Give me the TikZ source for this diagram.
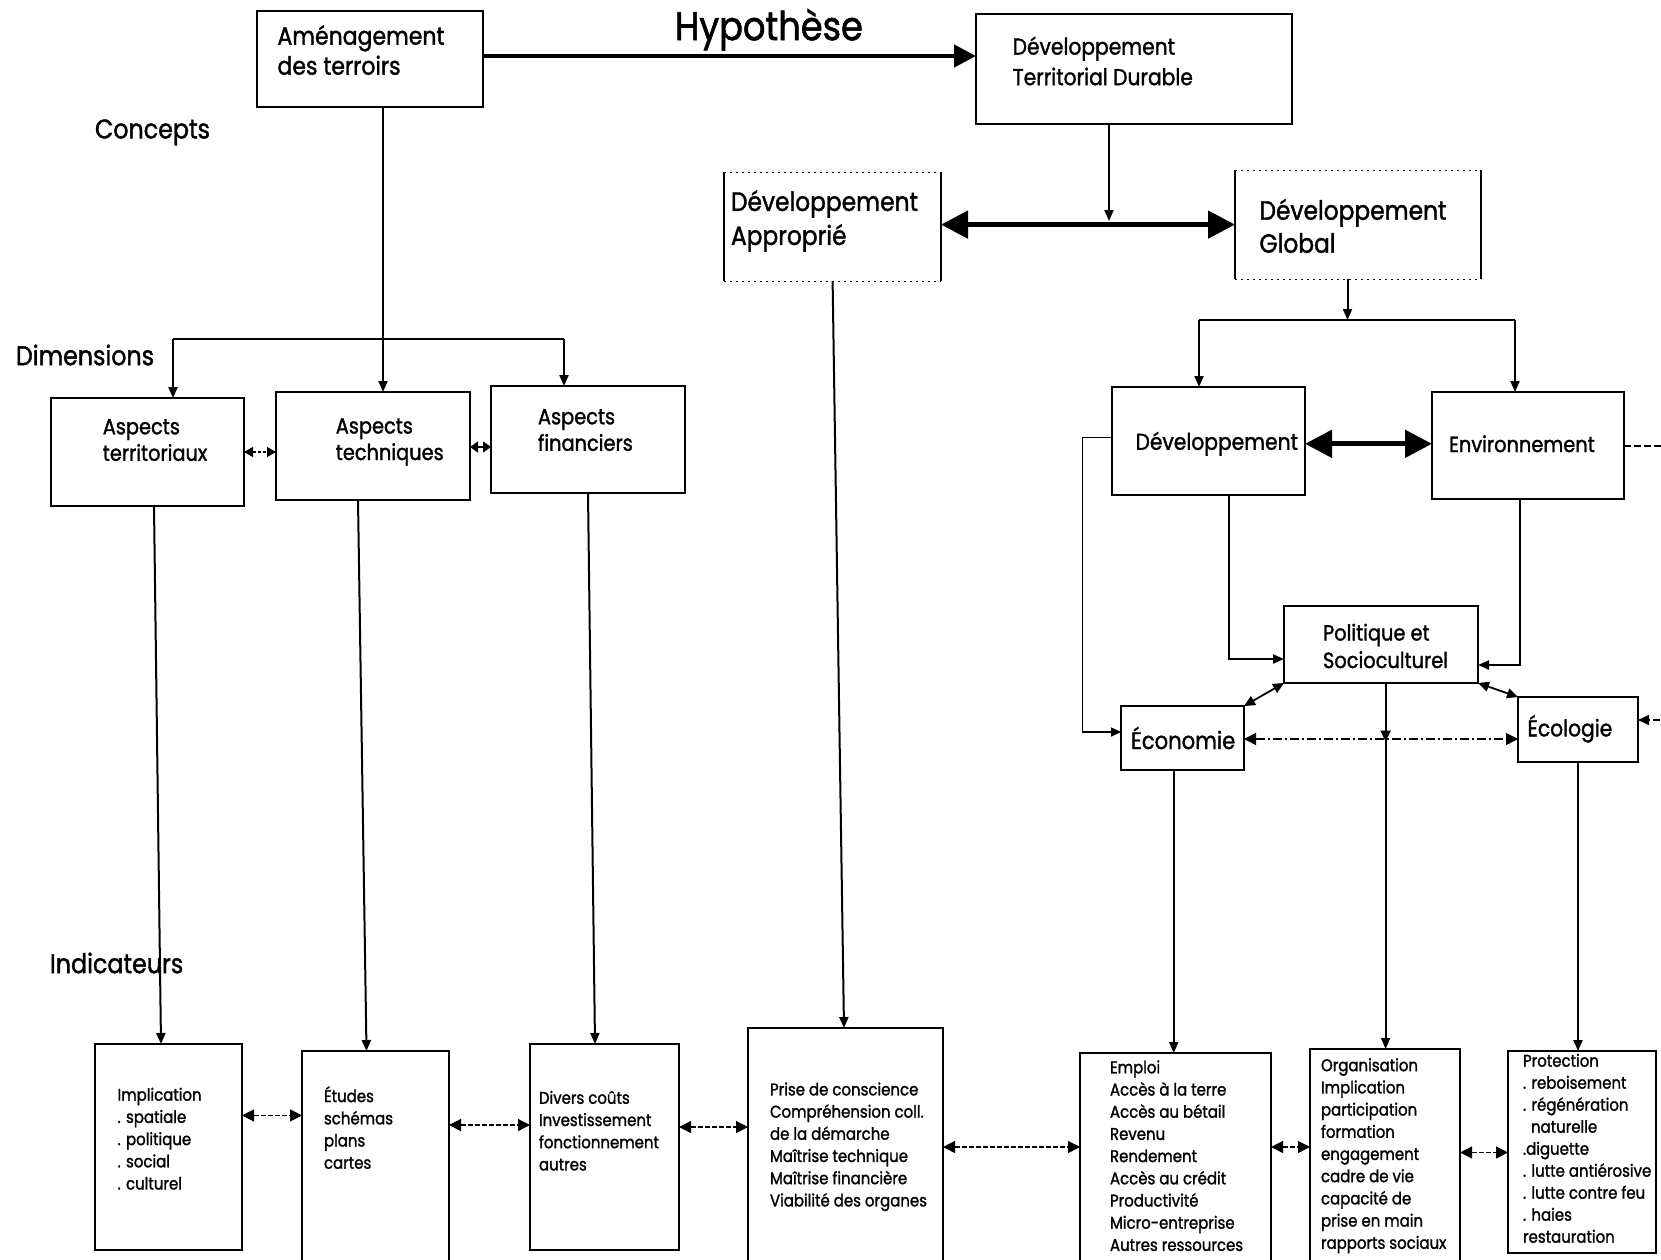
\documentclass[tikz,border=0pt]{standalone}
\usepackage{fontspec}
\setmainfont{Poppins}[FakeStretch=0.88, FakeBold=1.4]
\usetikzlibrary{arrows.meta,decorations.markings}
\newcommand\fsz[2]{\fontsize{#1}{#2}\selectfont}
\newcommand\mkbox[6][]{\node[bx,#1, minimum width={#5-#3}, minimum height={#6-#4}] (#2) at ({(#3+#5)/2},{(#4+#6)/2}) {};}
\tikzset{
  bx/.style={draw, line width=2pt, rectangle, inner sep=0pt, outer sep=0pt},
  tx/.style={inner sep=0pt, outer sep=0pt, align=left, anchor=west},
  ln/.style={line width=2pt},
  con/.style={line width=2pt, -{Triangle[length=11pt,width=9pt]}},
  dbl/.style={line width=1.8pt, {Triangle[length=11pt,width=10pt]}-{Triangle[length=11pt,width=10pt]}},
  sdbl/.style={line width=1.3pt, dash pattern=on 3pt off 2pt, {Triangle[length=9pt,width=10pt]}-{Triangle[length=9pt,width=10pt]}},
  ddbl/.style={line width=1.3pt, dash pattern=on 5pt off 2pt, {Triangle[length=12pt,width=12pt]}-{Triangle[length=12pt,width=12pt]}},
  dddbl/.style={line width=1.3pt, dash pattern=on 9pt off 3pt on 2pt off 3pt, {Triangle[length=12pt,width=12pt]}-{Triangle[length=12pt,width=12pt]}},
  thk/.style={line width=5pt, {Triangle[length=27pt,width=27pt]}-{Triangle[length=27pt,width=27pt]}},
  hyparr/.style={line width=4.5pt, -{Triangle[length=22pt,width=22pt]}},
  midarr/.style={postaction={decorate, decoration={markings, mark=at position 0.16 with {\arrow{Triangle[length=11pt,width=10pt]}}}}},
}
\begin{document}
\begin{tikzpicture}[x=1pt,y=-1pt]
\useasboundingbox[fill=white] (0,0) rectangle (1661,1259);

% ---------- boxes ----------
\mkbox{amen}{257}{11}{483}{107}
\mkbox{dtd}{976}{14}{1292}{124}
\mkbox[draw=none]{DA}{724}{172}{941}{281}
\mkbox[draw=none]{DG}{1235}{170}{1481}{279}
\mkbox{aterr}{51}{398}{244}{506}
\mkbox{atech}{276}{392}{470}{500}
\mkbox{afin}{491}{386}{685}{493}
\mkbox{dev}{1112}{387}{1305}{495}
\mkbox{env}{1432}{392}{1624}{499}
\mkbox{pol}{1284}{606}{1478}{683}
\mkbox{eco}{1121}{706}{1244}{770}
\mkbox{ecol}{1518}{697}{1638}{762}
\mkbox{ind1}{95}{1044}{242}{1250}
\mkbox{ind2}{302}{1051}{449}{1262}
\mkbox{ind3}{530}{1044}{679}{1250}
\mkbox{ind4}{748}{1028}{943}{1272}
\mkbox{ind7}{1080}{1053}{1271}{1272}
\mkbox{ind8}{1310}{1049}{1460}{1272}
\mkbox{ind9}{1508}{1051}{1656}{1253}

% open-looking boxes (solid sides, dotted top and bottom)
\draw[ln] (DA.north west) -- (DA.south west) (DA.north east) -- (DA.south east);
\draw[line width=1pt, dash pattern=on 2pt off 4pt] (DA.north west) -- (DA.north east) (DA.south west) -- (DA.south east);
\draw[ln] (DG.north west) -- (DG.south west) (DG.north east) -- (DG.south east);
\draw[line width=1pt, dash pattern=on 2pt off 4pt] (DG.north west) -- (DG.north east) (DG.south west) -- (DG.south east);

% ---------- texts ----------
\node[tx, font=\fsz{40}{44}] (hyp) at (675,29.7) {Hypothèse};
\node[tx, font=\fsz{27}{30}] (lconc) at (95,132.4) {Concepts};
\node[tx, font=\fsz{27}{30}] (ldim) at (16,355) {Dimensions};
\node[tx, font=\fsz{27}{30}] (lind) at (50,963) {Indicateurs};

\node[tx, font=\fsz{25}{30}] (amen-t) at (277.5,50) {Aménagement\\des terroirs};
\node[tx, font=\fsz{23}{30.5}] (dtd-t) at (1012.7,61) {Développement\\Territorial Durable};
\node[tx, font=\fsz{26.5}{34}] (DA-t) at (731,221) {Développement\\Approprié};
\node[tx, font=\fsz{26.5}{33}] (DG-t) at (1259.5,226) {Développement\\Global};
\node[tx, font=\fsz{22}{26.5}] (aterr-t) at (102.8,440) {Aspects\\territoriaux};
\node[tx, font=\fsz{22}{26.5}] (atech-t) at (335.8,442) {Aspects\\techniques};
\node[tx, font=\fsz{22}{26.5}] (afin-t) at (538,430) {Aspects\\financiers};
\node[tx, font=\fsz{23}{26}] (dev-t) at (1135.6,443.8) {Développement};
\node[tx, font=\fsz{22}{26}] (env-t) at (1449,443.8) {Environnement};
\node[tx, font=\fsz{22}{27.5}] (pol-t) at (1323,646) {Politique et\\Socioculturel};
\node[tx, font=\fsz{24}{28}] (eco-t) at (1131,738) {Économie};
\node[tx, font=\fsz{23}{28}] (ecol-t) at (1527.5,728.8) {Écologie};

\node[tx, font=\fsz{17}{22.2}] (ind1-t) at (117.6,1138.7) {Implication\\. spatiale\\. politique\\. social\\. culturel};
\node[tx, font=\fsz{17}{22.2}] (ind2-t) at (324,1127.6) {Études\\schémas\\plans\\cartes};
\node[tx, font=\fsz{17}{22.2}] (ind3-t) at (539,1130.7) {Divers coûts\\Investissement\\fonctionnement\\autres};
\node[tx, font=\fsz{17}{22.2}] (ind4-t) at (770,1146.7) {Prise de conscience\\Compréhension coll.\\de la démarche\\Maîtrise technique\\Maîtrise financière\\Viabilité des organes};
\node[tx, font=\fsz{17}{22.2}] (ind7-t) at (1110,1155.7) {Emploi\\Accès à la terre\\Accès au bétail\\Revenu\\Rendement\\Accès au crédit\\Productivité\\Micro-entreprise\\Autres ressources};
\node[tx, font=\fsz{17}{22.2}] (ind8-t) at (1321,1155.7) {Organisation\\Implication\\participation\\formation\\engagement\\cadre de vie\\capacité de\\prise en main\\rapports sociaux};
\node[tx, font=\fsz{17}{22}] (ind9-t) at (1523,1148.3) {Protection\\. reboisement\\. régénération\\\hspace*{8pt}naturelle\\.diguette\\. lutte antiérosive\\. lutte contre feu\\. haies\\restauration};

% ---------- helper coordinates ----------
\coordinate (Yhyp) at (0,56);
\coordinate (Xa) at (383,0);
\coordinate (B1) at (173,339);
\coordinate (B2) at (564,339);
\coordinate (Y452) at (0,452);
\coordinate (Y447) at (0,447);
\coordinate (V1a) at (154,0);   \coordinate (V1b) at (161,0);
\coordinate (V2a) at (358,0);   \coordinate (V2b) at (366.5,0);
\coordinate (V3a) at (588,0);   \coordinate (V3b) at (595,0);
\coordinate (V4a) at (832.6,0); \coordinate (V4b) at (844,0);
\coordinate (Xd) at (1109,0);
\coordinate (Tt) at (1109,221);
\coordinate (Ythick) at (0,224.6);
\coordinate (Xg) at (1347.5,0);
\coordinate (Ybr) at (0,320);
\coordinate (C1) at (1199,320);
\coordinate (C2) at (1515,320);
\coordinate (Ydev) at (0,443.8);
\coordinate (Yenv) at (0,446);
\coordinate (Yecr) at (0,720);
\coordinate (Xoff) at (1700,0);
\coordinate (Yl1) at (0,437.5);
\coordinate (Xl) at (1082.6,0);
\coordinate (Yl2) at (0,732);
\coordinate (Xdp) at (1229,0);  \coordinate (Ydp) at (0,659);
\coordinate (Xep) at (1520,0);  \coordinate (Yep) at (0,665);
\coordinate (Yee) at (0,739);
\coordinate (Xp8) at (1385.6,0);
\coordinate (Xe7) at (1173.7,0);
\coordinate (Xe9) at (1578,0);
\coordinate (Yb1) at (0,1115.4);
\coordinate (Yb2) at (0,1125);
\coordinate (Yb3) at (0,1127);
\coordinate (Yb4) at (0,1147);
\coordinate (Yb5) at (0,1147);
\coordinate (Yb6) at (0,1152.5);

% ---------- connectors ----------
\draw[hyparr] (amen.east |- Yhyp) -- (dtd.west |- Yhyp);
\draw[con] (amen.south -| Xa) -- (atech.north -| Xa);
\draw[ln] (B1) -- (B2);
\draw[con] (B1) -- (B1 |- aterr.north);
\draw[con] (B2) -- (B2 |- afin.north);
\draw[sdbl] (aterr.east |- Y452) -- (atech.west |- Y452);
\draw[line width=1.5pt, {Triangle[length=8pt,width=11pt]}-{Triangle[length=8pt,width=11pt]}] (atech.east |- Y447) -- (afin.west |- Y447);

\draw[con] (aterr.south -| V1a) -- (ind1.north -| V1b);
\draw[con] (atech.south -| V2a) -- (ind2.north -| V2b);
\draw[con] (afin.south -| V3a) -- (ind3.north -| V3b);
\draw[con] (DA.south -| V4a) -- (ind4.north -| V4b);

\draw[con] (dtd.south -| Xd) -- (Tt);
\draw[thk] (DA.east |- Ythick) -- (DG.west |- Ythick);
\draw[con] (DG.south -| Xg) -- (Xg |- Ybr);
\draw[ln] (C1) -- (C2);
\draw[con] (C1) -- (C1 |- dev.north);
\draw[con] (C2) -- (C2 |- env.north);
\draw[thk] (dev.east |- Ydev) -- (env.west |- Ydev);

\draw[line width=1.6pt, dash pattern=on 7pt off 3pt, -{Triangle[length=11pt,width=10pt]}] (env.east |- Yenv) -- (Xoff |- Yenv) -- (Xoff |- Yecr) -- (ecol.east |- Yecr);
\draw[line width=1.6pt, -{Triangle[length=10pt,width=9pt]}] (dev.west |- Yl1) -- (Xl |- Yl1) -- (Xl |- Yl2) -- (eco.west |- Yl2);
\draw[con] (dev.south -| Xdp) -- (Xdp |- Ydp) -- (pol.west |- Ydp);
\draw[con] (env.south -| Xep) -- (Xep |- Yep) -- (pol.east |- Yep);
\draw[dbl] (eco.north east) -- (pol.south west);
\draw[dbl] (pol.south east) -- (ecol.north west);
\draw[dddbl] (eco.east |- Yee) -- (ecol.west |- Yee);

\draw[con, midarr] (pol.south -| Xp8) -- (ind8.north -| Xp8);
\draw[con] (eco.south -| Xe7) -- (ind7.north -| Xe7);
\draw[con] (ecol.south -| Xe9) -- (ind9.north -| Xe9);

\draw[ddbl] (ind1.east |- Yb1) -- (ind2.west |- Yb1);
\draw[ddbl] (ind2.east |- Yb2) -- (ind3.west |- Yb2);
\draw[ddbl] (ind3.east |- Yb3) -- (ind4.west |- Yb3);
\draw[ddbl] (ind4.east |- Yb4) -- (ind7.west |- Yb4);
\draw[ddbl] (ind7.east |- Yb5) -- (ind8.west |- Yb5);
\draw[ddbl] (ind8.east |- Yb6) -- (ind9.west |- Yb6);
\end{tikzpicture}
\end{document}
